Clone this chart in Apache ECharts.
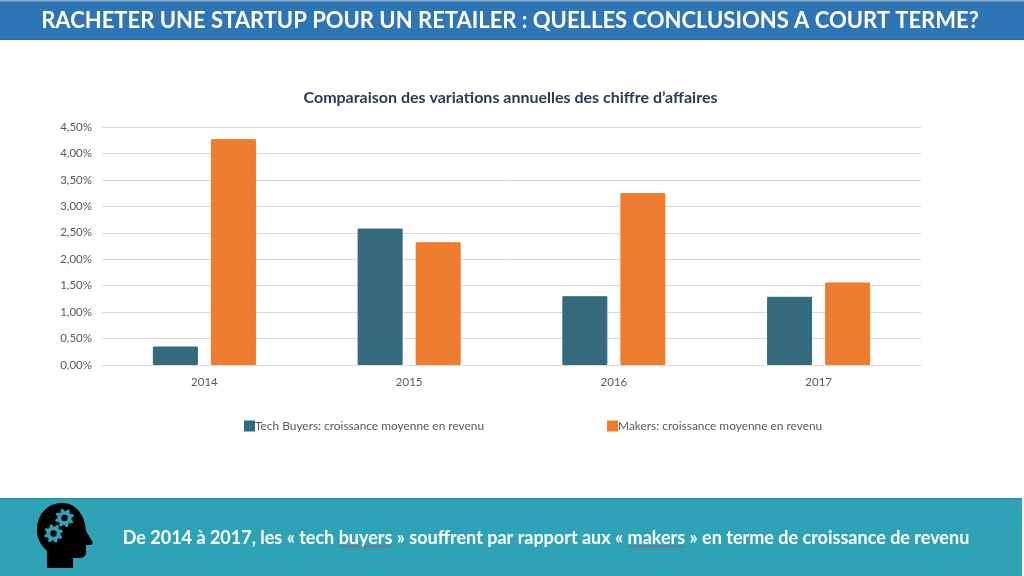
<!DOCTYPE html>
<html><head><meta charset="utf-8">
<style>html,body{margin:0;padding:0;background:#fff}#c{width:1024px;height:576px}</style>
<script src="https://cdn.jsdelivr.net/npm/echarts@6/dist/echarts.min.js"></script>
</head><body><div id="c"></div>
<script>
const categories = ['2014','2015','2016','2017'];
const techBuyers = [0.35,2.58,1.30,1.29];
const makers = [4.27,2.32,3.25,1.56];
const seriesNames = ['Tech Buyers: croissance moyenne en revenu','Makers: croissance moyenne en revenu'];
const headerText = 'RACHETER UNE STARTUP POUR UN RETAILER : QUELLES CONCLUSIONS A COURT TERME?';
const chartTitle = 'Comparaison des variations annuelles des chiffre d’affaires';
const footerText = 'De 2014 à 2017, les « tech buyers » souffrent par rapport aux « makers » en terme de croissance de revenu';
const FONT = 'Lato';
const TEAL = '#2FA3B6';

function gearPoints(cx, cy, r, n) {
  const pts = [];
  for (let i = 0; i < n * 4; i++) {
    const a = (i / (n * 4)) * Math.PI * 2 - Math.PI / 8;
    const rad = (i % 4 === 0 || i % 4 === 1) ? r : r * 0.74;
    pts.push([cx + rad * Math.cos(a), cy + rad * Math.sin(a)]);
  }
  return pts;
}
function squiggle(x0, x1, y) {
  const pts = [];
  for (let x = x0, k = 0; x <= x1; x += 1.3, k++) pts.push([x, y + (k % 2 ? 1 : 0)]);
  return {type:'polyline', shape:{points:pts}, style:{stroke:'#e0393e', lineWidth:0.8, fill:null}, silent:true, z:20};
}
const headPath = 'M62 503 C47 503 37 515 37 530 C37 540 42 546 47 551 L47 568 L73 568 L73 558 L80 558 C84 558 86 555 86 552 L86 545 L90 545 C92.5 545 93 543 92 541 L86 531 C85 516 77 503 62 503 Z';
echarts.graphic.registerShape('headShape', echarts.graphic.extendPath(headPath));

const chart = echarts.init(document.getElementById('c'), null, {renderer:'canvas'});
chart.setOption({
  animation:false,
  backgroundColor:'#ffffff',
  title:{text:chartTitle,left:510.5,top:90,padding:0,textAlign:'center',
    textStyle:{fontFamily:FONT,fontSize:16,fontWeight:'bold',color:'#2A3B57'}},
  legend:{left:244,top:420,padding:0,itemWidth:9,itemHeight:9,itemGap:123,icon:'rect',
    textStyle:{fontFamily:FONT,fontSize:11.9,color:'#595959',padding:[0,0,0,-4]},
    data:seriesNames},
  grid:{left:102,right:103,top:127,bottom:211},
  xAxis:{type:'category',data:categories,
    axisLine:{lineStyle:{color:'#D9D9D9',width:1}},axisTick:{show:false},
    axisLabel:{fontFamily:FONT,fontSize:11.5,color:'#595959',margin:11}},
  yAxis:{type:'value',min:0,max:4.5,interval:0.5,
    axisLine:{show:false},axisTick:{show:false},
    splitLine:{lineStyle:{color:'#D9D9D9',width:1}},
    axisLabel:{fontFamily:FONT,fontSize:11.5,color:'#595959',margin:10,
      formatter:v=>v.toFixed(2).replace('.',',')+'%'}},
  series:[
    {name:seriesNames[0],type:'bar',data:techBuyers,barWidth:45,barGap:'29%',
      itemStyle:{color:'#356A7C',borderColor:'#2E6B7E',borderWidth:1}},
    {name:seriesNames[1],type:'bar',data:makers,barWidth:45,
      itemStyle:{color:'#EE7D31',borderColor:'#F07B22',borderWidth:1}}
  ],
  graphic:[
    {type:'rect',shape:{x:0,y:0,width:1024,height:40},style:{fill:'#2E75B6'},z:5,silent:true},
    {type:'rect',shape:{x:0,y:0,width:1024,height:1.5},style:{fill:'#8FA9C4'},z:6,silent:true},
    {type:'rect',shape:{x:0,y:38.5,width:1024,height:1.5},style:{fill:'#2A6AA6'},z:6,silent:true},
    {type:'text',x:510,y:21,z:7,silent:true,style:{text:headerText,fill:'#fff',align:'center',verticalAlign:'middle',
      font:'bold 22px '+FONT}},
    {type:'rect',shape:{x:0,y:499,width:1022,height:77},style:{fill:TEAL},z:5,silent:true},
    {type:'rect',shape:{x:0,y:498,width:1022,height:1.5},style:{fill:'#2593A6'},z:6,silent:true},
    {type:'text',x:546,y:538,z:7,silent:true,style:{text:footerText,fill:'#fff',align:'center',verticalAlign:'middle',
      font:'bold 18px '+FONT}},
    squiggle(339,392,546),
    squiggle(628,685,546),
    {type:'headShape',style:{fill:'#000'},z:8,silent:true},
    {type:'polygon',shape:{points:gearPoints(64.5,518,9.5,8)},style:{fill:TEAL},z:9,silent:true},
    {type:'circle',shape:{cx:64.5,cy:518,r:3.2},style:{fill:'#000'},z:10,silent:true},
    {type:'polygon',shape:{points:gearPoints(53.5,533.5,9.5,8)},style:{fill:TEAL},z:9,silent:true},
    {type:'circle',shape:{cx:53.5,cy:533.5,r:3.2},style:{fill:'#000'},z:10,silent:true}
  ]
});
</script></body></html>
